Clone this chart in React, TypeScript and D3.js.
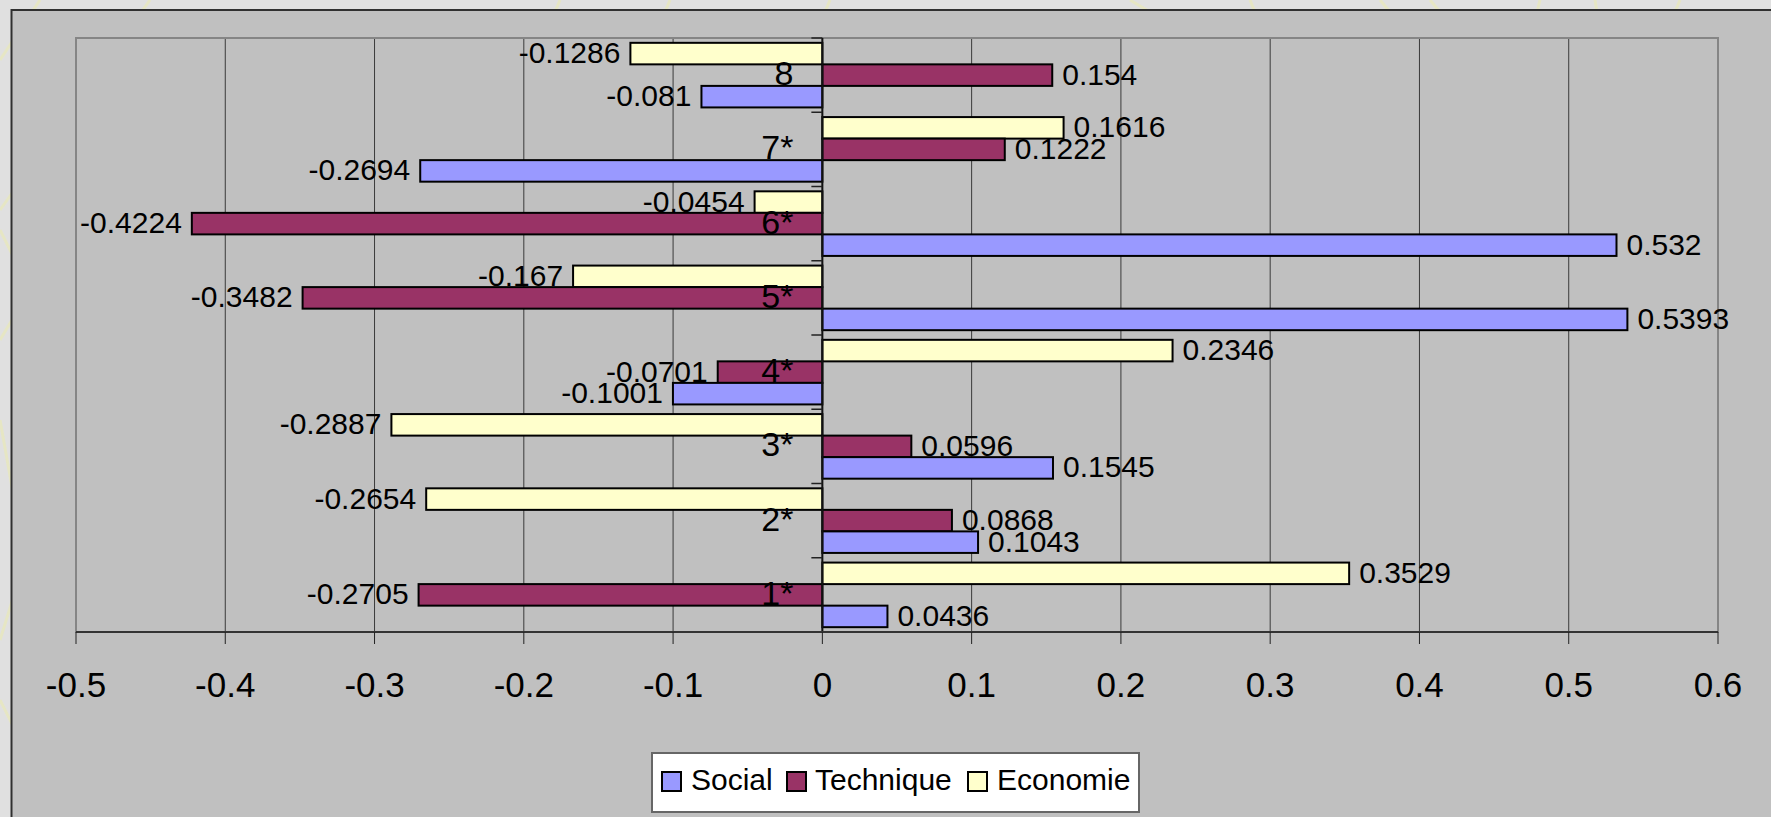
import React from "react";
import * as d3 from "d3";

// Categories listed top to bottom as they appear on the vertical axis
const categories = ["8", "7*", "6*", "5*", "4*", "3*", "2*", "1*"];
// Series order inside each category group, top to bottom
const seriesNames = ["Economie", "Technique", "Social"];
const legendOrder = ["Social", "Technique", "Economie"];

const social = [-0.081, -0.2694, 0.532, 0.5393, -0.1001, 0.1545, 0.1043, 0.0436];
const technique = [0.154, 0.1222, -0.4224, -0.3482, -0.0701, 0.0596, 0.0868, -0.2705];
const economie = [-0.1286, 0.1616, -0.0454, -0.167, 0.2346, -0.2887, -0.2654, 0.3529];

const xTicks = [-0.5, -0.4, -0.3, -0.2, -0.1, 0, 0.1, 0.2, 0.3, 0.4, 0.5, 0.6];

const seriesValues: Record<string, number[]> = {
  Social: social,
  Technique: technique,
  Economie: economie,
};

const colors: Record<string, string> = {
  Social: "#9999FF",
  Technique: "#993366",
  Economie: "#FFFFCC",
};

const W = 1771;
const H = 817;
const FONT = "'Liberation Sans', Arial, Helvetica, sans-serif";

const plot = { left: 76, right: 1718, top: 38, bottom: 632 };

export default function App() {
  const x = d3.scaleLinear().domain([-0.5, 0.6]).range([plot.left, plot.right]);
  const y = d3.scaleBand<string>().domain(categories).range([plot.top, plot.bottom]).padding(0);
  const bw = y.bandwidth();
  const inner = d3
    .scaleBand<string>()
    .domain(seriesNames)
    .range([bw * 0.065, bw * 0.935])
    .padding(0);
  const x0 = x(0);

  // faint decorative strokes of the page backdrop
  const deco = [
    "M40,0 L0,60",
    "M150,0 L0,210",
    "M0,230 L30,290 L0,340",
    "M0,420 L25,560 L0,640",
    "M0,700 L30,760",
    "M560,0 L555,12",
    "M670,0 L665,12",
    "M830,0 L825,12",
    "M1130,0 L1150,12",
    "M1250,0 L1255,12",
    "M1380,0 L1390,12",
    "M1430,0 L1440,12",
    "M1540,0 L1537,12",
    "M1595,0 L1597,12",
    "M1680,0 L1675,12",
  ];

  const legendBox = { x: 652, y: 753, w: 487, h: 59 };
  const legendItems = [
    { name: legendOrder[0], sx: 662, tx: 691 },
    { name: legendOrder[1], sx: 787, tx: 815 },
    { name: legendOrder[2], sx: 968, tx: 997 },
  ];

  return (
    <svg
      width={W}
      height={H}
      style={{ position: "absolute", left: 0, top: 0, display: "block" }}
      fontFamily={FONT}
    >
      <rect x={0} y={0} width={W} height={H} fill="#E0E0E0" />
      {deco.map((d, i) => (
        <path key={i} d={d} stroke="#E6E6C4" strokeWidth={3} fill="none" />
      ))}

      {/* chart area */}
      <rect x={11.5} y={10} width={W} height={H} fill="#C0C0C0" stroke="#303030" strokeWidth={2} />

      {/* vertical gridlines */}
      {xTicks.map((t) => (
        <line
          key={"g" + t}
          x1={x(t)}
          x2={x(t)}
          y1={plot.top}
          y2={plot.bottom}
          stroke="#3A3A3A"
          strokeWidth={1}
        />
      ))}

      {/* plot border */}
      <rect
        x={plot.left}
        y={plot.top}
        width={plot.right - plot.left}
        height={plot.bottom - plot.top}
        fill="none"
        stroke="#858585"
        strokeWidth={2}
      />

      {/* bars */}
      {categories.map((c, ci) =>
        seriesNames.map((s) => {
          const v = seriesValues[s][ci];
          const by = (y(c) as number) + (inner(s) as number);
          const bh = inner.bandwidth();
          const xa = Math.min(x(v), x0);
          const xb = Math.max(x(v), x0);
          return (
            <rect
              key={c + s}
              x={xa}
              y={by}
              width={xb - xa}
              height={bh}
              fill={colors[s]}
              stroke="#000"
              strokeWidth={2}
            />
          );
        })
      )}

      {/* category axis at zero */}
      <line x1={x0} x2={x0} y1={plot.top} y2={plot.bottom} stroke="#111" strokeWidth={2} />
      {y.domain().concat(["end"]).map((c, i) => {
        const yy = plot.top + i * bw;
        return <line key={"ct" + i} x1={x0 - 11} x2={x0} y1={yy} y2={yy} stroke="#222" strokeWidth={1.5} />;
      })}

      {/* value axis */}
      <line x1={plot.left} x2={plot.right} y1={plot.bottom} y2={plot.bottom} stroke="#333" strokeWidth={2} />
      {xTicks.map((t) => (
        <g key={"t" + t}>
          <line x1={x(t)} x2={x(t)} y1={plot.bottom} y2={plot.bottom + 12} stroke="#222" strokeWidth={1} />
          <text x={x(t)} y={697} textAnchor="middle" fontSize={35} fill="#000">
            {String(t)}
          </text>
        </g>
      ))}

      {/* data labels */}
      {categories.map((c, ci) =>
        seriesNames.map((s) => {
          const v = seriesValues[s][ci];
          const cy = (y(c) as number) + (inner(s) as number) + inner.bandwidth() / 2;
          const pos = v >= 0;
          return (
            <text
              key={"l" + c + s}
              x={pos ? x(v) + 10 : x(v) - 10}
              y={cy + 9.5}
              textAnchor={pos ? "start" : "end"}
              fontSize={30}
              fill="#000"
            >
              {String(v)}
            </text>
          );
        })
      )}

      {/* category labels */}
      {categories.map((c) => (
        <text
          key={"c" + c}
          x={x0 - 29}
          y={(y(c) as number) + bw / 2 + 10}
          textAnchor="end"
          fontSize={34}
          fill="#000"
        >
          {c}
        </text>
      ))}

      {/* legend */}
      <rect
        x={legendBox.x}
        y={legendBox.y}
        width={legendBox.w}
        height={legendBox.h}
        fill="#FFFFFF"
        stroke="#666"
        strokeWidth={2}
      />
      {legendItems.map((it) => (
        <g key={"lg" + it.name}>
          <rect x={it.sx} y={772} width={19} height={19} fill={colors[it.name]} stroke="#000" strokeWidth={2} />
          <text x={it.tx} y={790} fontSize={30} fill="#000">
            {it.name}
          </text>
        </g>
      ))}
    </svg>
  );
}
